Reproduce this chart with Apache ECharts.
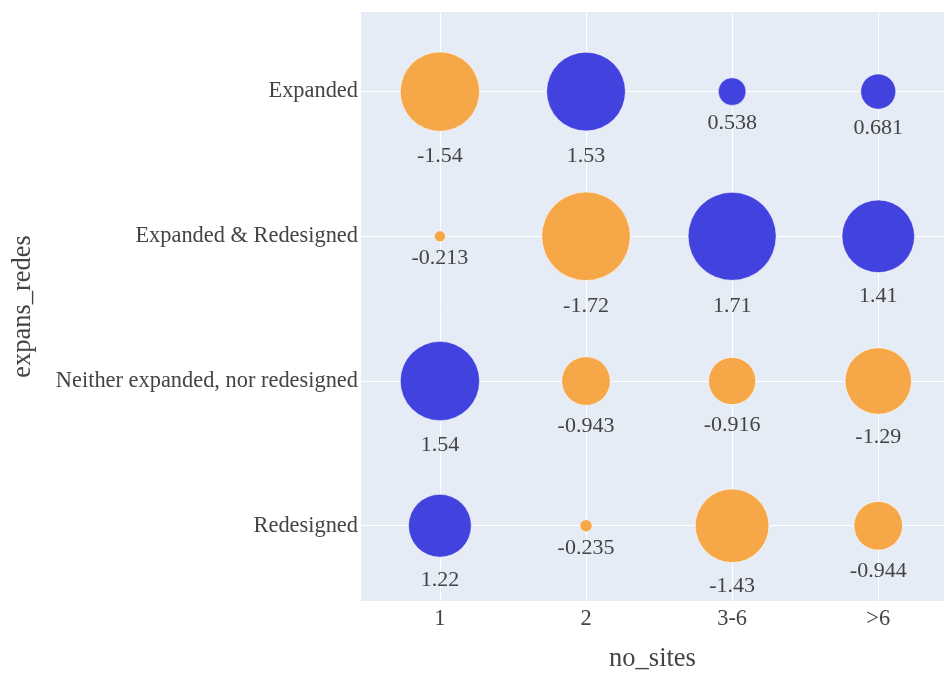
<!DOCTYPE html>
<html>
<head>
<meta charset="utf-8">
<script src="https://cdn.jsdelivr.net/npm/echarts@6/dist/echarts.min.js"></script>
<style>
  html, body { margin: 0; padding: 0; background: #ffffff; }
  #chart { width: 944px; height: 673px; }
</style>
</head>
<body>
<div id="chart"></div>
<script>
// Categories on each axis
const siteCategories = ['1', '2', '3-6', '>6'];
const redesignCategories = ['Expanded', 'Expanded & Redesigned', 'Neither expanded, nor redesigned', 'Redesigned'];

// Values per redesign category, one entry per site category
const expandedValues = [-1.54, 1.53, 0.538, 0.681];
const expandedRedesignedValues = [-0.213, -1.72, 1.71, 1.41];
const neitherValues = [1.54, -0.943, -0.916, -1.29];
const redesignedValues = [1.22, -0.235, -1.43, -0.944];

const valueRows = [expandedValues, expandedRedesignedValues, neitherValues, redesignedValues];

const SIZE_PER_UNIT = 51.5;
const POS_COLOR = '#4242de';
const NEG_COLOR = '#f6a748';
const SERIF = '"Liberation Serif", "Times New Roman", serif';

function buildPoints(sign) {
  const pts = [];
  valueRows.forEach((row, yi) => {
    row.forEach((v, xi) => {
      if ((sign > 0 && v > 0) || (sign < 0 && v < 0)) {
        const size = Math.abs(v) * SIZE_PER_UNIT;
        pts.push({
          value: [xi, yi, v],
          symbolSize: size,
          label: { distance: 3 + 0.13 * size }
        });
      }
    });
  });
  return pts;
}

function bubbleSeries(name, color, data) {
  return {
    name: name,
    type: 'scatter',
    data: data,
    itemStyle: { color: color, opacity: 1, borderColor: 'rgba(255,255,255,0.55)', borderWidth: 1 },
    label: {
      show: true,
      position: 'bottom',
      formatter: p => String(p.value[2]),
      fontFamily: SERIF,
      fontSize: 22,
      lineHeight: 22,
      color: '#444444'
    },
    emphasis: { disabled: true }
  };
}

const chart = echarts.init(document.getElementById('chart'), null, { renderer: 'canvas' });
chart.setOption({
  backgroundColor: '#ffffff',
  animation: false,
  grid: {
    left: 361, right: 0, top: 12, bottom: 72,
    outerBoundsMode: 'none',
    show: true, backgroundColor: '#e5ecf6', borderWidth: 0
  },
  xAxis: {
    type: 'value',
    min: -0.54,
    max: 3.45,
    name: 'no_sites',
    nameLocation: 'middle',
    nameGap: 45,
    nameTextStyle: { fontFamily: SERIF, fontSize: 26.5, color: '#444444' },
    axisLine: { show: false },
    axisTick: { show: false, customValues: [0, 1, 2, 3] },
    axisLabel: {
      customValues: [0, 1, 2, 3],
      formatter: v => siteCategories[Math.round(v)],
      fontFamily: SERIF, fontSize: 22.4, color: '#444444', margin: 7
    },
    splitLine: { show: true, lineStyle: { color: '#ffffff', width: 1 } }
  },
  yAxis: {
    type: 'value',
    inverse: true,
    min: -0.55,
    max: 3.52,
    name: 'expans_redes',
    nameLocation: 'middle',
    nameGap: 324,
    nameTextStyle: { fontFamily: SERIF, fontSize: 26.5, color: '#444444' },
    axisLine: { show: false },
    axisTick: { show: false, customValues: [0, 1, 2, 3] },
    axisLabel: {
      customValues: [0, 1, 2, 3],
      formatter: v => redesignCategories[Math.round(v)],
      fontFamily: SERIF, fontSize: 22.4, color: '#444444', margin: 3
    },
    splitLine: { show: true, lineStyle: { color: '#ffffff', width: 1 } }
  },
  series: [
    bubbleSeries('positive', POS_COLOR, buildPoints(1)),
    bubbleSeries('negative', NEG_COLOR, buildPoints(-1))
  ]
});
</script>
</body>
</html>
